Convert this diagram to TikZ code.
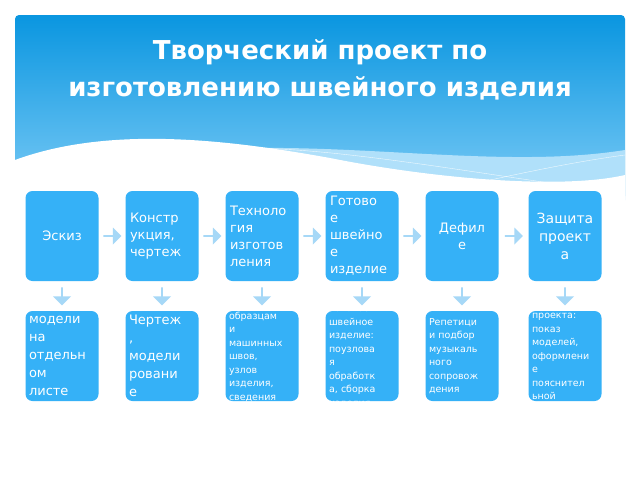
\documentclass[tikz,border=0pt]{standalone}
\usepackage{fontspec}
\setmainfont{DejaVu Sans}
\usetikzlibrary{shapes.arrows,calc}
\definecolor{box}{HTML}{35B1F7}
\definecolor{arr}{HTML}{A6D8F7}
\definecolor{bt}{HTML}{0A96E0}
\definecolor{bb}{HTML}{7CCBF6}
\begin{document}
\begin{tikzpicture}[x=1pt,y=-1pt,
 bx/.style={fill=box,rounded corners=7pt,minimum width=73pt,minimum height=90pt,inner sep=0pt},
 tx/.style={text=white,align=left,inner sep=0pt},
 t1/.style={font=\fontsize{13}{17}\selectfont,text width=64pt},
 t2/.style={font=\fontsize{13}{18}\selectfont,text width=66pt},
 t3/.style={font=\fontsize{9.5}{13.5}\selectfont,text width=66pt},
 ra/.style={single arrow,fill=arr,minimum height=18pt,minimum width=17pt,single arrow head extend=2pt,inner sep=0pt},
 da/.style={single arrow,fill=arr,shape border rotate=270,minimum height=18pt,minimum width=18pt,single arrow head extend=2pt,inner sep=0pt}]
\useasboundingbox (0,0) rectangle (640,480);
\fill[white] (0,0) rectangle (640,480);
\shade[top color=bt,bottom color=bb,rounded corners=4pt] (15,15) rectangle (625,200);
\fill[white!40!bb] (200,150) .. controls (350,140) and (500,170) .. (625,150) -- (625,200) -- (200,200) -- cycle;
\fill[white] (15,160) .. controls (110,125) and (230,140) .. (330,158) .. controls (430,178) and (560,190) .. (625,175) -- (625,202) -- (15,202) -- cycle;
\draw[white,thin,opacity=.8] (200,150) .. controls (300,140) and (450,170) .. (600,190);
\draw[white,thin,opacity=.8] (390,202) .. controls (470,185) and (550,165) .. (625,155);
\node[white,font=\bfseries\fontsize{26}{37}\selectfont,align=center] (title) at (320,70) {Творческий проект по\\изготовлению швейного изделия};
\foreach \i/\x in {1/62,2/162,3/262,4/362,5/462,6/565}{
  \node[bx] (a\i) at (\x,236) {};
  \node[bx] (b\i) at (\x,356) {};
}
\node[tx,t1,align=center] at (a1) {Эскиз};
\node[tx,t1] at (a2) {Констр\\укция,\\чертеж};
\node[tx,t1] at (a3) {Техноло\\гия\\изготов\\ления};
\node[tx,t1] at (a4) {Готово\\е\\швейно\\е\\изделие};
\node[tx,t1,align=center] at (a5) {Дефил\\е};
\node[tx,t1,align=center,font=\fontsize{14}{18}\selectfont] at (a6) {Защита\\проект\\а};
\foreach \i/\j in {1/2,2/3,3/4,4/5,5/6}{
  \node[ra] (r\i) at ($(a\i.east)!0.5!(a\j.west)$) {};
}
\node[tx,t2] at (b1) {Эскиз\\модели\\на\\отдельн\\ом\\листе\\В цвете};
\node[tx,t2] at (b2) {Чертеж\\,\\модели\\ровани\\е};
\node[tx,t3] at (b3) {Альбом с\\образцам\\и\\машинных\\швов,\\узлов\\изделия,\\сведения\\о тканях};
\node[tx,t3] at (b4) {Готовое\\швейное\\изделие:\\поузлова\\я\\обработк\\а, сборка\\изделия};
\node[tx,t3] at (b5) {Репетици\\и подбор\\музыкаль\\ного\\сопровож\\дения};
\node[tx,t3] at (b6) {Защита\\проекта:\\показ\\моделей,\\оформлени\\е\\пояснител\\ьной\\записки};
\foreach \i in {1,...,6}{
  \node[da] (d\i) at ($(a\i.south)!0.5!(b\i.north)$) {};
}
\end{tikzpicture}
\end{document}
